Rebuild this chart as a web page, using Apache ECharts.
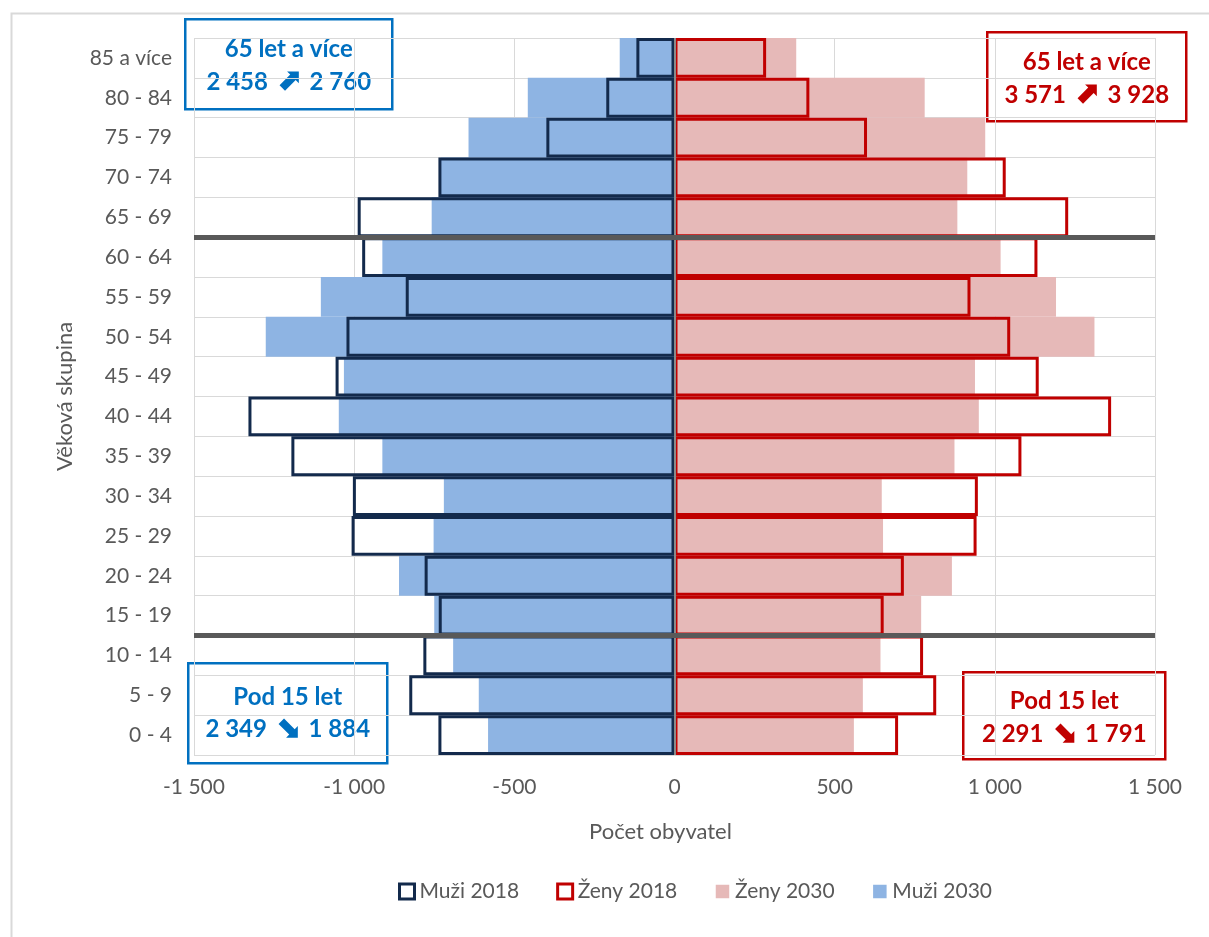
<!DOCTYPE html>
<html>
<head>
<meta charset="utf-8">
<script src="https://cdn.jsdelivr.net/npm/echarts@6/dist/echarts.min.js"></script>
<style>
html,body{margin:0;padding:0;background:#fff;}
#chart{width:1209px;height:937px;}
</style>
</head>
<body>
<div id="chart"></div>
<script>
// Age groups, bottom to top
const categories = ['0 - 4','5 - 9','10 - 14','15 - 19','20 - 24','25 - 29','30 - 34','35 - 39','40 - 44','45 - 49','50 - 54','55 - 59','60 - 64','65 - 69','70 - 74','75 - 79','80 - 84','85 a více'];
const muzi2018 = [737, 828, 784, 736, 780, 1008, 1004, 1196, 1330, 1058, 1024, 839, 975, 989, 737, 400, 213, 119];
const muzi2030 = [582, 611, 691, 750, 860, 752, 720, 912, 1048, 1032, 1276, 1104, 912, 758, 730, 643, 458, 171];
const zeny2018 = [698, 817, 776, 653, 716, 943, 947, 1083, 1363, 1137, 1048, 924, 1133, 1229, 1034, 601, 421, 286];
const zeny2030 = [560, 588, 643, 770, 866, 651, 647, 874, 950, 938, 1311, 1191, 1018, 883, 914, 970, 781, 380];
const xTickValues = [-1500, -1000, -500, 0, 500, 1000, 1500];
const xTickLabels = ['-1 500', '-1 000', '-500', '0', '500', '1 000', '1 500'];
const groupBoundaries = [3, 13];
const seriesNames = ['Muži 2018', 'Ženy 2018', 'Ženy 2030', 'Muži 2030'];
const boxTitles = ['65 let a více', '65 let a více', 'Pod 15 let', 'Pod 15 let'];
const boxFrom = ['2 458', '3 571', '2 349', '2 291'];
const boxTo = ['2 760', '3 928', '1 884', '1 791'];
const boxArrows = ['\u2B08', '\u2B08', '\u2B0A', '\u2B0A'];

const FONT = 'Lato, "DejaVu Sans", sans-serif';
const NAVY = '#132A4C', RED = '#C00000', BLUE = '#8EB4E3', PINK = '#E6B9B8';
const BOXBLUE = '#0070C0';

const chart = echarts.init(document.getElementById('chart'), null, {renderer: 'canvas'});

function box(x, y, w, h, color, i, l1, l2) {
  return {
    type: 'group', left: x, top: y, z: 100,
    children: [
      {type: 'rect', shape: {x: 0, y: 0, width: w, height: h}, style: {fill: '#fff', stroke: color, lineWidth: 2.5}},
      {type: 'text', x: w / 2, y: l1, style: {text: boxTitles[i], fill: color, font: 'bold 24px ' + FONT, textAlign: 'center', textVerticalAlign: 'middle'}},
      {type: 'text', x: w / 2, y: l2, style: {
        text: '{n|' + boxFrom[i] + ' }{a|' + boxArrows[i] + '}{n| ' + boxTo[i] + '}',
        textAlign: 'center', textVerticalAlign: 'middle',
        rich: {
          n: {fill: color, font: 'bold 24px ' + FONT},
          a: {fill: color, font: 'bold 31px "DejaVu Sans"', padding: [0, 2, 0, 2]}
        }
      }}
    ]
  };
}

const option = {
  backgroundColor: '#fff',
  animation: false,
  grid: {left: 194, right: 54, top: 38, bottom: 182, containLabel: false},
  legend: {
    left: 393, top: 876, itemWidth: 15, itemHeight: 15, itemGap: 37,
    textStyle: {fontFamily: FONT, fontSize: 21, color: '#595959'},
    data: [
      {name: 'Muži 2018', icon: 'rect', itemStyle: {color: '#fff', borderColor: NAVY, borderWidth: 3}},
      {name: 'Ženy 2018', icon: 'rect', itemStyle: {color: '#fff', borderColor: RED, borderWidth: 3}},
      {name: 'Ženy 2030', icon: 'rect', itemStyle: {color: PINK, borderColor: '#fff', borderWidth: 1.5}},
      {name: 'Muži 2030', icon: 'rect', itemStyle: {color: BLUE, borderColor: '#fff', borderWidth: 1.5}}
    ]
  },
  xAxis: {
    type: 'value', min: -1500, max: 1500, interval: 500,
    axisLine: {show: false, onZero: false}, axisTick: {show: false},
    splitLine: {show: true, lineStyle: {color: '#d9d9d9', width: 1}},
    axisLabel: {
      color: '#595959', fontFamily: FONT, fontSize: 21, margin: 22,
      formatter: v => { const i = xTickValues.indexOf(v); return i >= 0 ? xTickLabels[i] : ''; }
    },
    name: 'Počet obyvatel', nameLocation: 'middle', nameGap: 66,
    nameTextStyle: {color: '#595959', fontFamily: FONT, fontSize: 22, padding: [0, 28, 0, 0]}
  },
  yAxis: [
    {
      type: 'category', data: categories,
      axisLine: {show: false, onZero: false}, axisTick: {show: false},
      splitLine: {show: true, lineStyle: {color: '#d9d9d9', width: 1}},
      axisLabel: {color: '#595959', fontFamily: FONT, fontSize: 21, margin: 22},
      name: 'Věková skupina', nameLocation: 'middle', nameGap: 118, nameRotate: 90,
      nameTextStyle: {color: '#595959', fontFamily: FONT, fontSize: 22}
    },
    {type: 'value', min: 0, max: 18, show: false}
  ],
  series: [
    {
      name: seriesNames[0], type: 'bar', z: 3, barGap: '-100%', barCategoryGap: 0,
      data: muzi2018.map(v => -v),
      itemStyle: {color: 'rgba(0,0,0,0)', borderColor: NAVY, borderWidth: 3}
    },
    {
      name: seriesNames[1], type: 'bar', z: 3, barGap: '-100%', barCategoryGap: 0,
      data: zeny2018,
      itemStyle: {color: 'rgba(0,0,0,0)', borderColor: RED, borderWidth: 3}
    },
    {
      name: seriesNames[2], type: 'bar', z: 2, barGap: '-100%', barCategoryGap: 0,
      data: zeny2030,
      itemStyle: {color: PINK}
    },
    {
      name: seriesNames[3], type: 'bar', z: 2, barGap: '-100%', barCategoryGap: 0,
      data: muzi2030.map(v => -v),
      itemStyle: {color: BLUE}
    },
    {
      name: 'lines', type: 'scatter', xAxisIndex: 0, yAxisIndex: 1, z: 10,
      symbolSize: 0, data: [[0, 0]], silent: true,
      markLine: {
        silent: true, symbol: 'none', label: {show: false}, animation: false,
        data: [
          {xAxis: 0, lineStyle: {color: '#8a8a8a', width: 2, type: 'solid'}},
          ...groupBoundaries.map(b => ({yAxis: b, lineStyle: {color: '#595959', width: 5, type: 'solid'}}))
        ]
      }
    }
  ],
  graphic: [
    {type: 'rect', left: 9, top: 11, z: -10, shape: {x: 0, y: 0, width: 1240, height: 960}, style: {fill: 'none', stroke: '#d9d9d9', lineWidth: 2}},
    box(184, 18, 207, 90, BOXBLUE, 0, 30, 63),
    box(986, 31, 199, 89, RED, 1, 30, 63),
    box(187, 662, 199, 100, BOXBLUE, 2, 34, 66),
    box(962, 671, 202, 87, RED, 3, 29, 62)
  ]
};
chart.setOption(option);
</script>
</body>
</html>
